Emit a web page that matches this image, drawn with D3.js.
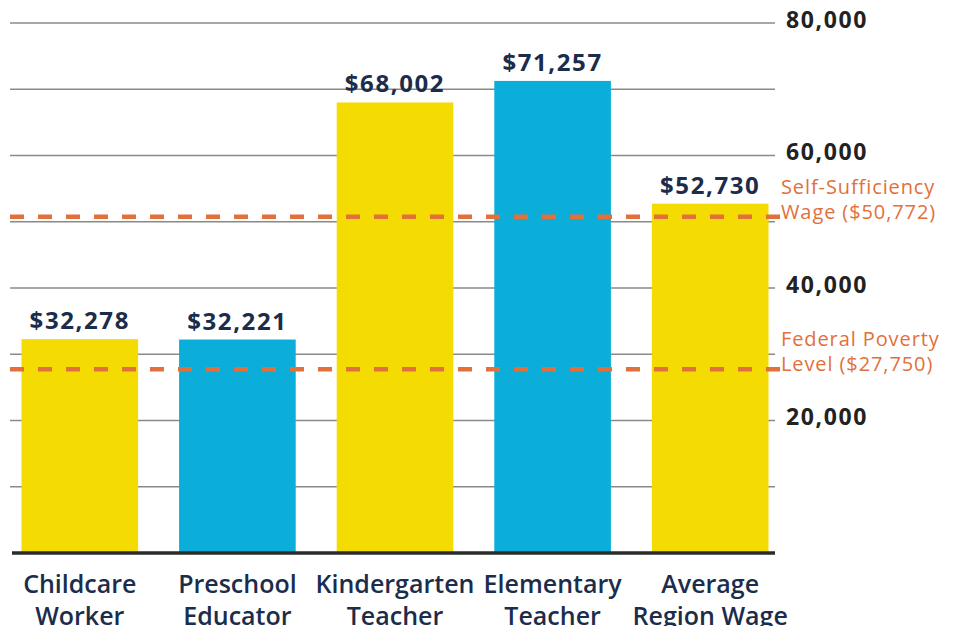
<!DOCTYPE html>
<html>
<head>
<meta charset="utf-8">
<script src="https://cdn.jsdelivr.net/npm/d3@7"></script>
<style>
  html, body { margin: 0; padding: 0; background: #fff; }
  svg { display: block; }
</style>
</head>
<body>
<div id="chart"></div>
<script>
const categories = [
  ["Childcare", "Worker"],
  ["Preschool", "Educator"],
  ["Kindergarten", "Teacher"],
  ["Elementary", "Teacher"],
  ["Average", "Region Wage"]
];
const wages = [32278, 32221, 68002, 71257, 52730];
const barColors = ["#f4dc03", "#0aaed9", "#f4dc03", "#0aaed9", "#f4dc03"];
const tickValues = [20000, 40000, 60000, 80000];
const refLines = [
  { value: 50772, label: ["Self-Sufficiency", "Wage ($50,772)"] },
  { value: 27750, label: ["Federal Poverty", "Level ($27,750)"] }
];

const width = 955;
const height = 626;

const svg = d3.select("#chart")
  .append("svg")
  .attr("width", width)
  .attr("height", height)
  .attr("viewBox", [0, 0, width, height]);

const x = d3.scaleBand()
  .domain(d3.range(categories.length))
  .range([1, 789])
  .paddingInner(0.26)
  .paddingOuter(0.13);

const y = d3.scaleLinear()
  .domain([0, 80000])
  .range([553, 23]);

const gridLeft = 10;
const gridRight = 775;

// gridlines every 10k
svg.append("g")
  .selectAll("line")
  .data(y.ticks(8).filter(d => d > 0))
  .join("line")
  .attr("x1", gridLeft)
  .attr("x2", gridRight)
  .attr("y1", d => y(d))
  .attr("y2", d => y(d))
  .attr("stroke", "#8a8a8a")
  .attr("stroke-width", 1.5);

// tick labels on the right
const axis = svg.append("g")
  .attr("transform", `translate(${gridRight + 11},0)`)
  .call(d3.axisRight(y).tickValues(tickValues).tickSize(0).tickPadding(0).tickFormat(d3.format(",")));
axis.select(".domain").remove();
axis.selectAll("text")
  .attr("dy", "0.28em")
  .attr("y", -2)
  .attr("fill", "#222")
  .attr("font-family", "'Open Sans', sans-serif")
  .attr("font-weight", 700)
  .attr("font-size", "23px")
  .attr("letter-spacing", "1.6px");

// bars
svg.append("g")
  .selectAll("rect")
  .data(wages)
  .join("rect")
  .attr("x", (d, i) => x(i))
  .attr("width", x.bandwidth())
  .attr("y", d => y(d))
  .attr("height", d => y(0) - y(d))
  .attr("fill", (d, i) => barColors[i]);

// value labels
svg.append("g")
  .selectAll("text")
  .data(wages)
  .join("text")
  .attr("x", (d, i) => x(i) + x.bandwidth() / 2)
  .attr("y", d => y(d) - 10)
  .attr("text-anchor", "middle")
  .attr("fill", "#1b2d4b")
  .attr("font-family", "'Open Sans', sans-serif")
  .attr("font-weight", 700)
  .attr("font-size", "24px")
  .attr("letter-spacing", "1.6px")
  .text(d => "$" + d3.format(",")(d));

// baseline
svg.append("line")
  .attr("x1", gridLeft + 2)
  .attr("x2", gridRight)
  .attr("y1", y(0))
  .attr("y2", y(0))
  .attr("stroke", "#2b2b2b")
  .attr("stroke-width", 3.5);

// reference lines
const ref = svg.append("g");
ref.selectAll("line")
  .data(refLines)
  .join("line")
  .attr("x1", gridLeft)
  .attr("x2", 781)
  .attr("y1", d => y(d.value))
  .attr("y2", d => y(d.value))
  .attr("stroke", "#e2703a")
  .attr("stroke-width", 4.5)
  .attr("stroke-dasharray", "14,14");

ref.selectAll("text")
  .data(refLines)
  .join("text")
  .attr("x", 781)
  .attr("y", d => y(d.value) - 23)
  .attr("fill", "#e2703a")
  .attr("font-family", "'Open Sans', sans-serif")
  .attr("font-weight", 500)
  .attr("font-size", "20px")
  .attr("letter-spacing", "0.9px")
  .selectAll("tspan")
  .data(d => d.label)
  .join("tspan")
  .attr("x", 781)
  .attr("dy", (d, i) => i === 0 ? 0 : 25)
  .text(d => d);

// category labels
svg.append("g")
  .selectAll("text")
  .data(categories)
  .join("text")
  .attr("x", (d, i) => x(i) + x.bandwidth() / 2)
  .attr("y", 593)
  .attr("text-anchor", "middle")
  .attr("fill", "#1b2d4b")
  .attr("font-family", "'Open Sans', sans-serif")
  .attr("font-weight", 600)
  .attr("font-size", "25px")
  .selectAll("tspan")
  .data(d => d)
  .join("tspan")
  .attr("x", function() { return d3.select(this.parentNode).attr("x"); })
  .attr("dy", (d, i) => i === 0 ? 0 : 32)
  .text(d => d);
</script>
</body>
</html>
